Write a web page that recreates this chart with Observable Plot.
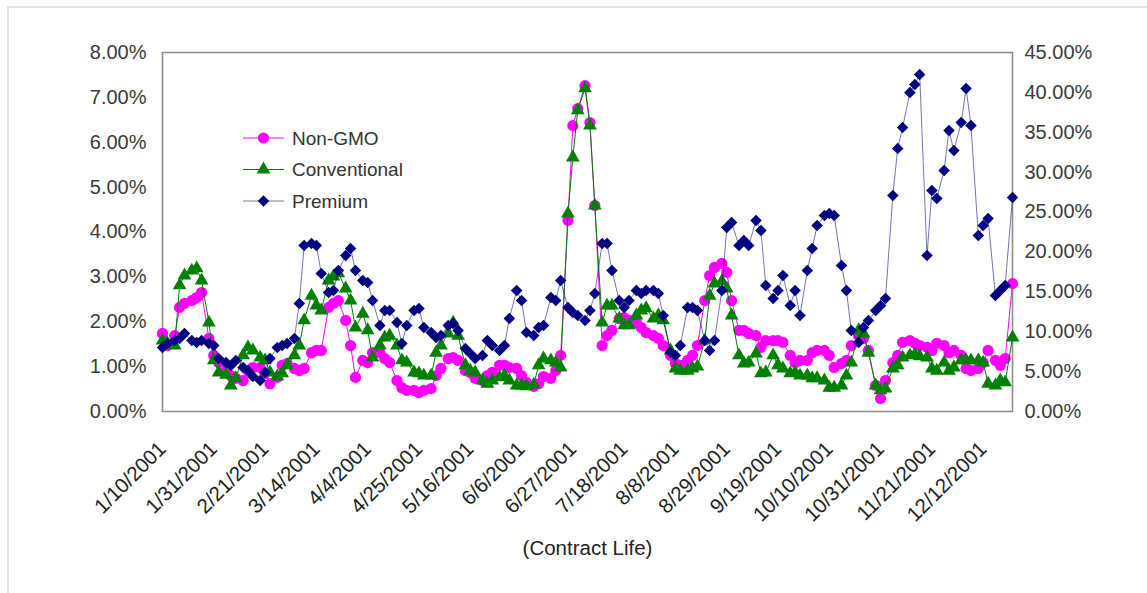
<!DOCTYPE html>
<html>
<head>
<meta charset="utf-8">
<script src="https://cdn.jsdelivr.net/npm/d3@7"></script>
<script src="https://cdn.jsdelivr.net/npm/@observablehq/plot@0.6"></script>
<style>
html, body { margin: 0; padding: 0; background: #fff; }
#wrap { position: relative; width: 1147px; height: 593px; overflow: hidden; font-family: "Liberation Sans", Arial, sans-serif; }
#border { position: absolute; left: 7px; top: 6px; width: 1160px; height: 600px; border-left: 2px solid #e2e2e2; border-top: 2px solid #e2e2e2; }
#chart { position: absolute; left: 0; top: 0; }
#legend { position: absolute; left: 0; top: 0; }
</style>
</head>
<body>
<div id="wrap">
  <div id="border"></div>
  <div id="chart"></div>
  <svg id="legend" width="460" height="230"></svg>
</div>
<script>
// Series names
const seriesNames = ["Non-GMO", "Conventional", "Premium"];

// Observation dates: Mon/Wed/Fri from 1/10/2001 through 12/24/2001 (150 dates)
const firstDate = new Date(Date.UTC(2001, 0, 10));
const lastDate = new Date(Date.UTC(2001, 11, 24));
const dates = d3.utcDays(firstDate, d3.utcDay.offset(lastDate, 1)).filter(d => [1, 3, 5].includes(d.getUTCDay()));

// Non-GMO (left axis, %)
const nonGmo = [
  1.74, 1.47,
  1.69, 2.32, 2.41,  2.47, 2.54, 2.65,  1.63, 1.25, 1.09,  0.91, 0.80, 0.74,
  0.69, 0.91, 0.98,  0.98, 0.85, 0.62,  0.76, 1.03, 1.07,  0.96, 0.91, 0.96,
  1.31, 1.36, 1.36,  2.32, 2.41, 2.47,  2.03, 1.47, 0.76,  1.14, 1.09, 1.31,
  1.31, 1.18, 1.09,  0.69, 0.53, 0.47,  0.47, 0.42, 0.47,  0.51, 0.80, 0.96,
  1.18, 1.20, 1.14,  0.91, 0.87, 0.74,  0.69, 0.80, 0.87,  1.03, 1.03, 0.98,
  0.96, 0.80, 0.65,  0.56, 0.62, 0.78,  0.74, 0.91, 1.25,  4.26, 6.37, 6.75,
  7.26, 6.44, 4.59,  1.47, 1.69, 1.81,  2.07, 2.09, 2.03,  1.98, 1.87, 1.76,
  1.69, 1.63, 1.47,  1.25, 1.07, 1.03,  1.14, 1.25, 1.47,  2.47, 3.03, 3.21,
  3.30, 3.10, 2.47,  1.81, 1.81, 1.74,  1.69, 1.43, 1.58,  1.58, 1.58, 1.54,
  1.25, 1.09, 1.14,  1.14, 1.31, 1.36,  1.36, 1.25, 0.98,  1.07, 1.14, 1.47,
  1.69, 1.63, 1.36,  0.58, 0.29, 0.69,  1.09, 1.25, 1.54,  1.58, 1.52, 1.47,
  1.43, 1.36, 1.52,  1.47, 1.31, 1.36,  1.25, 0.96, 0.91,  0.96, 1.09, 1.36,
  1.14, 1.03, 1.18,
  2.85
];

// Conventional (left axis, %)
const conventional = [
  1.58, 1.52,
  1.47, 2.81, 3.03,  3.14, 3.19, 2.92,  1.98, 1.14, 0.87,  0.82, 0.58, 0.74,
  1.25, 1.43, 1.36,  1.20, 1.14, 0.87,  0.78, 0.85, 1.03,  1.25, 1.47, 2.03,
  2.58, 2.36, 2.25,  2.92, 3.01, 3.08,  2.74, 2.47, 1.87,  2.18, 1.81, 1.20,
  1.47, 1.65, 1.69,  1.47, 1.14, 1.09,  0.87, 0.85, 0.80,  0.80, 1.31, 1.47,
  1.74, 1.98, 1.69,  1.03, 0.91, 0.87,  0.69, 0.62, 0.69,  0.76, 0.80, 0.69,
  0.58, 0.58, 0.56,  0.60, 1.03, 1.18,  1.14, 1.09, 0.98,  4.41, 5.66, 6.71,
  7.20, 6.37, 4.59,  1.98, 2.36, 2.36,  2.07, 1.92, 1.92,  2.14, 2.25, 2.30,
  2.07, 2.14, 2.03,  1.36, 0.96, 0.91,  0.91, 0.96, 1.00,  1.58, 2.58, 2.85,
  2.90, 2.74, 2.14,  1.25, 1.07, 1.09,  1.29, 0.85, 0.87,  1.25, 1.03, 0.96,
  0.85, 0.87, 0.80,  0.80, 0.74, 0.74,  0.69, 0.53, 0.53,  0.58, 0.80, 1.09,
  1.81, 1.74, 1.31,  0.58, 0.47, 0.51,  0.96, 1.03, 1.20,  1.25, 1.27, 1.23,
  1.20, 0.96, 0.91,  1.09, 0.91, 0.98,  1.14, 1.14, 1.14,  1.14, 1.09, 0.62,
  0.58, 0.69, 0.65,
  1.65
];

// Premium (right axis, %)
const premium = [
  8.02, 8.52,
  8.90, 9.15, 9.78,  8.90, 8.65, 8.90,  8.52, 8.27, 6.64,  6.14, 5.77, 6.39,
  5.52, 5.14, 4.39,  3.89, 4.89, 6.64,  8.02, 8.27, 8.52,  9.15, 13.54, 20.81,
  21.06, 20.81, 17.30,  14.92, 15.17, 17.67,  19.55, 20.43, 17.67,  16.42, 16.17, 13.91,
  10.78, 12.66, 12.66,  11.16, 8.52, 10.78,  12.66, 12.91, 10.53,  9.90, 9.28, 9.53,
  10.78, 11.03, 10.15,  7.90, 7.27, 6.64,  7.02, 8.90, 8.27,  7.65, 8.27, 11.66,
  15.17, 13.91, 9.90,  9.53, 10.53, 10.78,  14.29, 13.91, 16.42,  13.04, 12.41, 12.03,
  11.41, 12.66, 14.79,  21.06, 21.06, 17.67,  13.91, 13.04, 13.91,  15.17, 14.79, 15.17,
  15.17, 14.79, 12.03,  7.40, 7.02, 8.27,  13.04, 13.04, 12.66,  8.90, 7.65, 8.90,
  15.17, 23.06, 23.69,  20.81, 21.43, 20.81,  23.94, 22.69, 15.79,  14.16, 15.17, 17.05,
  13.29, 15.17, 12.03,  17.67, 20.43, 23.31,  24.57, 24.82, 24.57,  18.30, 15.17, 10.15,
  8.65, 10.53, 11.41,  12.66, 13.29, 14.16,  27.07, 32.97, 35.60,  39.99, 40.99, 42.24,
  19.55, 27.70, 26.70,  30.21, 35.22, 32.72,  36.22, 40.49, 35.85,  22.06, 23.31, 24.19,
  14.54, 15.17, 15.79,
  26.82
];

// Tick labels
const xTickLabels = ["1/10/2001", "1/31/2001", "2/21/2001", "3/14/2001", "4/4/2001", "4/25/2001", "5/16/2001",
  "6/6/2001", "6/27/2001", "7/18/2001", "8/8/2001", "8/29/2001", "9/19/2001", "10/10/2001", "10/31/2001",
  "11/21/2001", "12/12/2001"];
const leftTicks = [0, 1, 2, 3, 4, 5, 6, 7, 8];
const rightTicks = [0, 5, 10, 15, 20, 25, 30, 35, 40, 45];

const colors = ["#ff00ff", "#008000", "#000080"];
const ratio = 8 / 45; // right-axis % -> left-axis %
const radii = [5.6, 5.1, 5.2];

const parseLabel = d3.utcParse("%m/%d/%Y");
const xTicks = xTickLabels.map(s => parseLabel(s));
const fmtLabel = d3.utcFormat("%-m/%-d/%Y");

const rows = dates.map((d, i) => ({date: d, n: nonGmo[i], c: conventional[i], p: premium[i]}));

const plot = Plot.plot({
  width: 1147,
  height: 593,
  marginLeft: 162,
  marginRight: 135,
  marginTop: 52,
  marginBottom: 182,
  style: {fontFamily: "'Liberation Sans', Arial, sans-serif", fontSize: "20px", color: "#333", background: "transparent", overflow: "visible"},
  x: {type: "utc", domain: [firstDate, lastDate]},
  y: {domain: [0, 8]},
  marks: [
    Plot.axisY({ticks: leftTicks, tickFormat: d => d.toFixed(2) + "%", anchor: "left", tickSize: 0, tickPadding: 16, label: null, fontSize: 20, fill: "#3a3a3a"}),
    Plot.axisY({ticks: rightTicks.map(t => t * ratio), tickFormat: d => (d / ratio).toFixed(2) + "%", anchor: "right", tickSize: 0, tickPadding: 12, label: null, fontSize: 20, fill: "#3a3a3a"}),
    Plot.axisX({ticks: xTicks, tickFormat: fmtLabel, tickRotate: -45, tickSize: 0, tickPadding: 34, fontSize: 20.5, fill: "#222",
      label: "(Contract Life)", labelAnchor: "center", labelArrow: "none", labelOffset: 143}),
    Plot.frame({stroke: "#8c8c8c", strokeWidth: 1.6}),
    Plot.line(rows, {x: "date", y: "n", stroke: colors[0], strokeWidth: 1}),
    Plot.dot(rows, {x: "date", y: "n", symbol: "circle", r: radii[0], fill: colors[0]}),
    Plot.line(rows, {x: "date", y: "c", stroke: colors[1], strokeWidth: 1}),
    Plot.dot(rows, {x: "date", y: "c", symbol: "triangle", r: radii[1], fill: colors[1]}),
    Plot.line(rows, {x: "date", y: d => d.p * ratio, stroke: colors[2], strokeWidth: 1, strokeOpacity: 0.55}),
    Plot.dot(rows, {x: "date", y: d => d.p * ratio, symbol: "diamond2", r: radii[2], fill: colors[2]})
  ]
});
document.getElementById("chart").appendChild(plot);

// Legend
const lg = d3.select("#legend");
const symbols = [d3.symbolCircle, d3.symbolTriangle, d3.symbolDiamond2];
seriesNames.forEach((name, i) => {
  const y = 138 + i * 31.5;
  const g = lg.append("g");
  g.append("line").attr("x1", 243).attr("x2", 284).attr("y1", y).attr("y2", y)
    .attr("stroke", colors[i]).attr("stroke-width", 1).attr("stroke-opacity", i === 2 ? 0.55 : 1);
  g.append("path").attr("d", d3.symbol(symbols[i], Math.PI * radii[i] * radii[i])()).attr("transform", `translate(263.5,${y})`).attr("fill", colors[i]);
  g.append("text").attr("x", 292).attr("y", y).attr("dy", "0.35em").attr("font-size", 19)
    .attr("font-family", "'Liberation Sans', Arial, sans-serif").attr("fill", "#333").text(name);
});
</script>
</body>
</html>
